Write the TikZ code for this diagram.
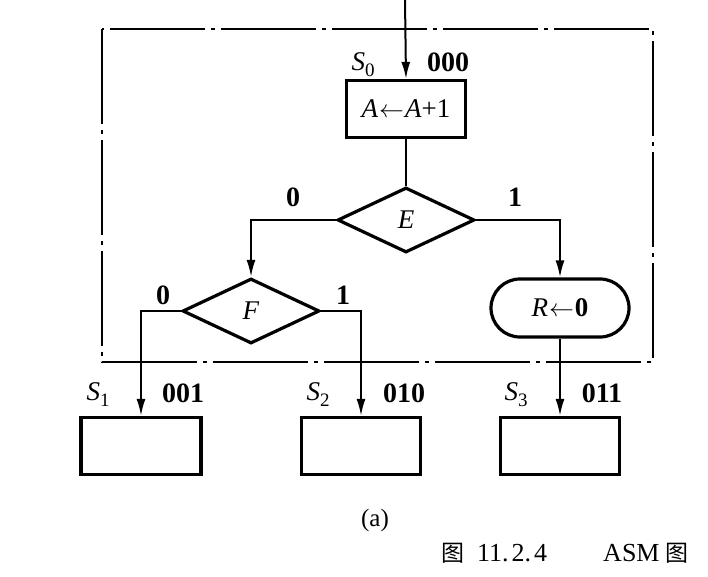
\documentclass[tikz,border=0pt]{standalone}
\usepackage{fontspec}
\setmainfont{Liberation Serif}
\newfontfamily\cjk{Noto Sans CJK SC}
\usetikzlibrary{shapes.geometric,arrows.meta}
\newcommand{\stname}[1]{\textit{S}\raisebox{-6pt}{\fontsize{19}{20}\selectfont #1}}
\begin{document}
\begin{tikzpicture}[x=1pt,y=-1pt,
 every node/.style={font=\fontsize{27}{30}\selectfont, inner sep=0pt},
 box/.style={draw, line width=3.2pt, minimum width=119pt, minimum height=57pt},
 dec/.style={draw, diamond, line width=3.2pt, minimum width=137pt, minimum height=65pt},
 cond/.style={draw, rectangle, rounded corners=29pt, line width=3.2pt, minimum width=138pt, minimum height=58pt},
 conn/.style={line width=2pt},
 arr/.style={conn, -{Latex[length=17pt,width=9pt]}},
 frame/.style={line width=2pt, dash pattern=on 95pt off 6pt on 4pt off 6pt},
 lab/.style={font=\fontsize{28}{30}\selectfont\bfseries}
]
\useasboundingbox (0,0) rectangle (708,577);
% dash-dot frame
\draw[frame] (102,29) rectangle (653,362);
% nodes
\coordinate (in) at (405,0);
\node[box] (s0) at (406,109) {\textit{A}\kern1pt$\leftarrow$\kern1pt\textit{A}+1};
\node[dec] (e) at (406,220) {\textit{E}};
\node[dec] (f) at (251,311) {\textit{F}};
\node[cond] (r) at (560,308) {\textit{R}\kern1pt$\leftarrow$\kern1pt\textbf{0}};
\node[box, minimum width=120pt] (s1) at (141,446) {};
\node[box] (s2) at (361,446) {};
\node[box] (s3) at (560,446) {};
% connectors
\draw[arr] (in) -- (s0.north);
\draw[conn] (s0.south) -- (e.north);
\draw[arr] (e.west) -| (f.north);
\draw[arr] (e.east) -| (r.north);
\draw[arr] (f.west) -| (s1.north);
\draw[arr] (f.east) -| (s2.north);
\draw[arr] (r.south) -- (s3.north);
% labels
\node (ls0) at (363,65) {\stname{0}};
\node[lab] (c0) at (448,62) {000};
\node[lab] (e0) at (293,197) {0};
\node[lab] (e1) at (515,197) {1};
\node[lab] (f0) at (163,295) {0};
\node[lab] (f1) at (343,295) {1};
\node (ls1) at (98,395) {\stname{1}};
\node[lab] (c1) at (183,393) {001};
\node (ls2) at (318,395) {\stname{2}};
\node[lab] (c2) at (404,393) {010};
\node (ls3) at (516,395) {\stname{3}};
\node[lab] (c3) at (602,393) {011};
\node[font=\fontsize{25}{28}\selectfont] (sub) at (375,520) {(a)};
\node[anchor=west, font=\fontsize{26}{28}\selectfont] (cap) at (441,553) {{\cjk\fontsize{23}{26}\selectfont 图}\hspace{13pt}11.\hspace{3pt}2.\hspace{3pt}4\hspace{56pt}ASM\hspace{6pt}{\cjk\fontsize{23}{26}\selectfont 图}};
\end{tikzpicture}
\end{document}
